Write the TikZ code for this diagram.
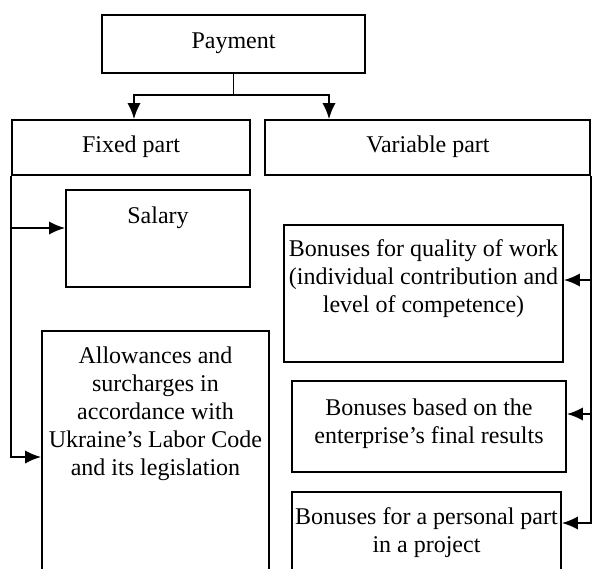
\documentclass[tikz,border=0pt]{standalone}
\usepackage{fontspec}
\setmainfont{Liberation Serif}
\usetikzlibrary{arrows.meta,fit,positioning}

\begin{document}
\begin{tikzpicture}[>={Latex[length=12pt,width=10pt]},x=0.75pt,y=-0.75pt,
	box/.style={draw,line width=1.4pt,inner sep=0pt},
	txt/.style={align=center,inner sep=0pt,font=\fontsize{18}{21}\selectfont},
	conn/.style={line width=1.4pt}]

\useasboundingbox (0,0) rectangle (592,568);
\clip (0,0) rectangle (592,568);

\node[box,fit={(102,15) (365,73)}] (pay) {};
\node[box,fit={(12,120) (250,175)}] (fixed) {};
\node[box,fit={(265,120) (590,175)}] (var) {};
\node[box,fit={(66,190) (250,287)}] (salary) {};
\node[box,fit={(42,331) (269,590)}] (allow) {};
\node[box,fit={(284,225) (563,362)}] (quality) {};
\node[box,fit={(292,381) (566,472)}] (based) {};
\node[box,fit={(292,492) (561,590)}] (personal) {};

\node[txt] (paytxt) at (233.5,43) {Payment};
\node[txt] (fixedtxt) at (131,147) {Fixed part};
\node[txt] (vartxt) at (428,147) {Variable part};
\node[txt] (salarytxt) at (158,218) {Salary};
\node[txt] (allowtxt) at (155.5,413.5) {Allowances and\\surcharges in\\accordance with\\Ukraine’s Labor Code\\and its legislation};
\node[txt] (qualitytxt) at (423.5,279) {Bonuses for quality of work\\(individual contribution and\\level of competence)};
\node[txt] (basedtxt) at (429,423.5) {Bonuses based on the\\enterprise’s final results};
\node[txt] (personaltxt) at (426.5,533) {Bonuses for a personal part\\in a project};

% payment -> parts
\draw[conn] (pay.south) -- ++(0,21) coordinate (split);
\draw[conn,->] (split) -| (134,0 |- fixed.north);
\draw[conn,->] (split) -| (329,0 |- var.north);

% fixed part
\draw[conn,->] (fixed.south west) |- (allow.west |- 0,457);
\draw[conn,->] (fixed.south west |- 0,228) -- (salary.west |- 0,228);

% variable part
\draw[conn,->] (var.south east) |- (personal.east |- 0,523);
\draw[conn,->] (var.south east |- 0,280) -- (quality.east |- 0,280);
\draw[conn,->] (var.south east |- 0,414) -- (based.east |- 0,414);

\end{tikzpicture}
\end{document}
